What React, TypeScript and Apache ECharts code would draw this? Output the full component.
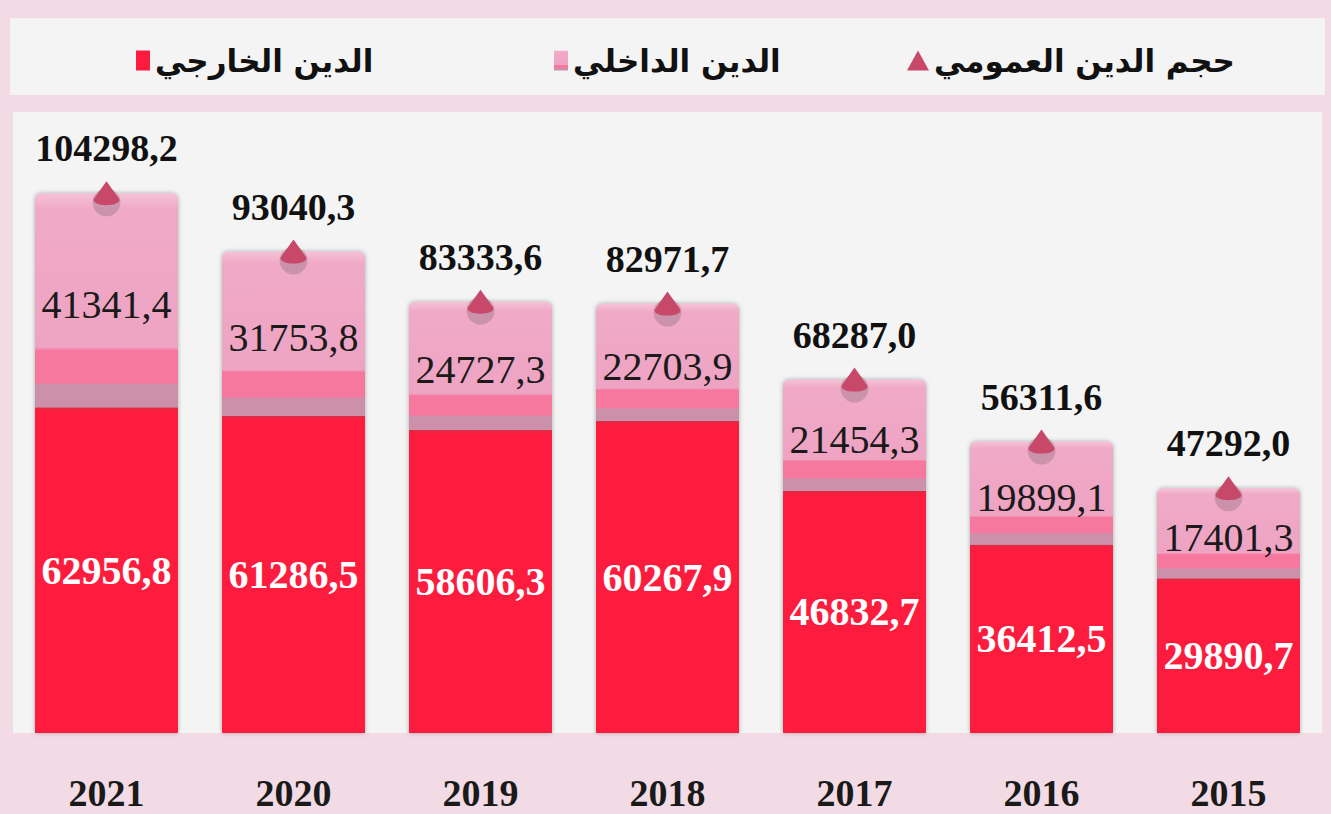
import React, { useEffect, useRef } from "react";
import * as echarts from "echarts";

const years = ["2021", "2020", "2019", "2018", "2017", "2016", "2015"];
const externalDebt = [62956.8, 61286.5, 58606.3, 60267.9, 46832.7, 36412.5, 29890.7];
const internalDebt = [41341.4, 31753.8, 24727.3, 22703.9, 21454.3, 19899.1, 17401.3];
const totalDebt = [104298.2, 93040.3, 83333.6, 82971.7, 68287.0, 56311.6, 47292.0];

const NAME_EXT = "الدين الخارجي";
const NAME_INT = "الدين الداخلي";
const NAME_TOT = "حجم الدين العمومي";

const fmt = (v: number) => v.toFixed(1).replace(".", ",");

const SERIF = "'Liberation Serif', 'Times New Roman', serif";
const ARABIC = "'DejaVu Sans', 'Noto Sans', sans-serif";

export default function App() {
  const ref = useRef<HTMLDivElement>(null);
  useEffect(() => {
    if (!ref.current) return;
    const chart = echarts.init(ref.current, undefined, { renderer: "svg" });
    const pinkGradient = new echarts.graphic.LinearGradient(0, 0, 0, 1, [
      { offset: 0, color: "#f5c3d7" },
      { offset: 0.07, color: "#f0aac7" },
      { offset: 0.72, color: "#eea3c2" },
      { offset: 0.735, color: "#f7789f" },
      { offset: 0.885, color: "#f7789f" },
      { offset: 0.895, color: "#cc90ab" },
      { offset: 1, color: "#cc90ab" },
    ]);
    const legendText = {
      fontFamily: ARABIC,
      fontWeight: "bold" as const,
      fontSize: 31,
      color: "#111111",
    };
    chart.setOption({
      animation: false,
      backgroundColor: "#f3dbe5",
      graphic: [
        {
          type: "rect",
          shape: { x: 10, y: 18, width: 1315, height: 77 },
          style: { fill: "#f4f4f4" },
          z: -10,
        },
      ],
      legend: [
        {
          data: [{ name: NAME_EXT, icon: "rect" }],
          left: 131,
          top: 40,
          itemWidth: 14,
          itemHeight: 20,
          itemGap: 0,
          textStyle: legendText,
          selectedMode: false,
        },
        {
          data: [{ name: NAME_INT, icon: "rect" }],
          left: 549,
          top: 40,
          itemWidth: 14,
          itemHeight: 20,
          textStyle: legendText,
          selectedMode: false,
        },
        {
          data: [{ name: NAME_TOT, icon: "triangle" }],
          left: 902,
          top: 40,
          itemWidth: 22,
          itemHeight: 20,
          textStyle: legendText,
          selectedMode: false,
        },
      ],
      grid: {
        left: 13,
        right: 9,
        top: 112,
        bottom: 81,
        show: true,
        backgroundColor: "#f4f4f4",
        borderWidth: 0,
      },
      xAxis: {
        type: "category",
        data: years,
        axisLine: { show: false },
        axisTick: { show: false },
        axisLabel: {
          fontFamily: SERIF,
          fontWeight: "bold",
          fontSize: 38,
          color: "#1a1a1a",
          margin: 41,
        },
      },
      yAxis: {
        type: "value",
        min: 0,
        max: 120000,
        show: false,
        splitLine: { show: false },
      },
      series: [
        {
          name: NAME_EXT,
          type: "bar",
          stack: "debt",
          data: externalDebt,
          barWidth: 143,
          itemStyle: {
            color: "#fd1c3e",
            shadowColor: "rgba(90,110,110,0.55)",
            shadowBlur: 4,
          },
          label: {
            show: true,
            position: "inside",
            formatter: (p: any) => fmt(p.value),
            fontFamily: SERIF,
            fontWeight: "bold",
            fontSize: 40,
            color: "#ffffff",
          },
        },
        {
          name: NAME_INT,
          type: "bar",
          stack: "debt",
          data: internalDebt,
          barWidth: 143,
          itemStyle: {
            color: pinkGradient,
            borderRadius: [6, 6, 0, 0],
            shadowColor: "rgba(90,110,110,0.55)",
            shadowBlur: 4,
          },
          label: {
            show: true,
            position: "inside",
            offset: [0, 4],
            formatter: (p: any) => fmt(p.value),
            fontFamily: SERIF,
            fontSize: 40,
            color: "#1a1a1a",
          },
        },
        {
          name: "shadow",
          type: "scatter",
          data: totalDebt,
          symbol: "circle",
          symbolSize: 28,
          symbolOffset: [0, 9],
          itemStyle: { color: "rgba(120,95,105,0.3)", opacity: 1 },
          silent: true,
          z: 4,
        },
        {
          name: NAME_TOT,
          type: "scatter",
          data: totalDebt,
          symbol: "path://M13,0 L24,19 C26,23 20,26 13,26 C6,26 0,23 2,19 Z",
          symbolSize: [26, 24],
          symbolOffset: [0, 0],
          itemStyle: { color: "#c8486a", opacity: 1 },
          z: 5,
          label: {
            show: true,
            position: "top",
            distance: 14,
            formatter: (p: any) => fmt(p.value),
            fontFamily: SERIF,
            fontWeight: "bold",
            fontSize: 38,
            color: "#111111",
          },
        },
      ],
    });
    return () => chart.dispose();
  }, []);
  return (
    <div
      ref={ref}
      style={{ position: "fixed", left: 0, top: 0, width: 1331, height: 814 }}
    />
  );
}
